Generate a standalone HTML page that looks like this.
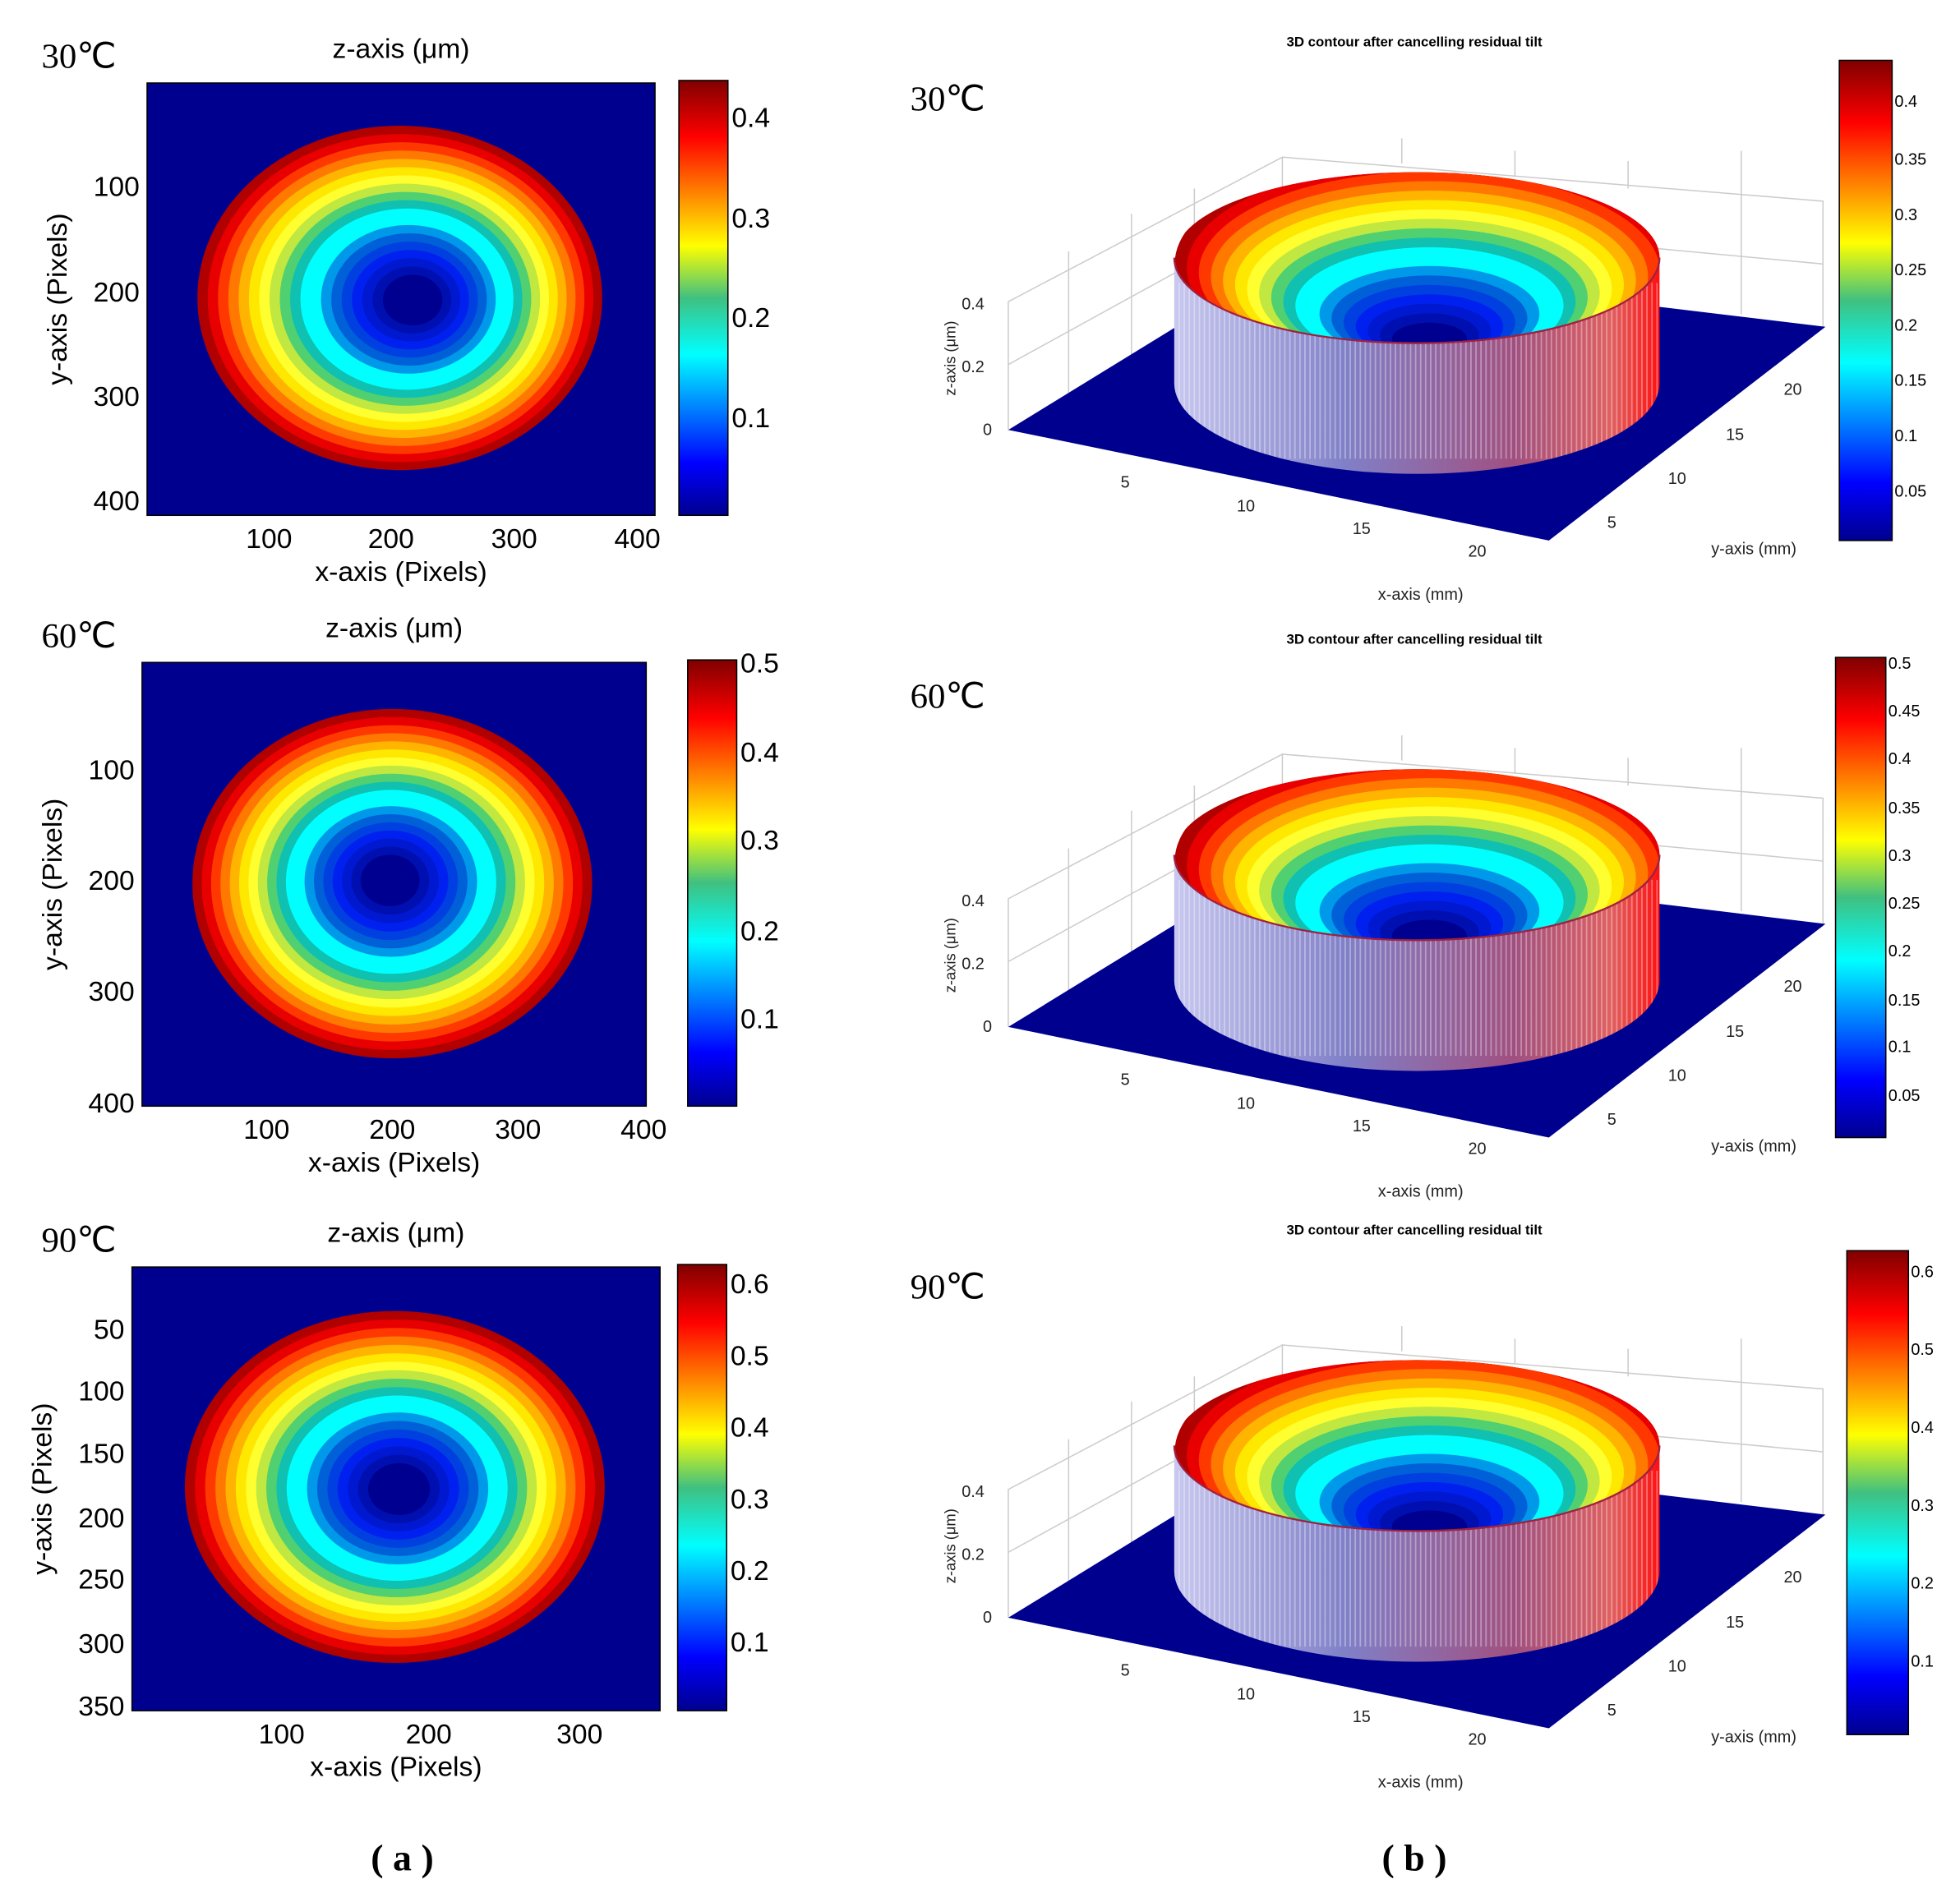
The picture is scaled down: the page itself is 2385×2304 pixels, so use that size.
<!DOCTYPE html>
<html><head><meta charset="utf-8">
<style>html,body{margin:0;padding:0;background:#fff}svg{display:block}</style></head>
<body>
<svg id="s" xmlns="http://www.w3.org/2000/svg" width="2385" height="2304" viewBox="0 0 1559 1506">
<defs>
<linearGradient id="jet" x1="0" y1="1" x2="0" y2="0">
<stop offset="0" stop-color="#00008f"/><stop offset="0.12" stop-color="#0000ff"/>
<stop offset="0.37" stop-color="#00ffff"/><stop offset="0.5" stop-color="#40c080"/><stop offset="0.62" stop-color="#ffff00"/>
<stop offset="0.87" stop-color="#ff0000"/><stop offset="1" stop-color="#800000"/></linearGradient>
<linearGradient id="wall" x1="0" y1="0" x2="1" y2="0">
<stop offset="0" stop-color="#c8c8f0"/><stop offset="0.35" stop-color="#8080c8"/>
<stop offset="0.7" stop-color="#a05080"/><stop offset="0.9" stop-color="#e06060"/><stop offset="1" stop-color="#ff1010"/></linearGradient>
</defs>
<g id="root" font-family="Liberation Sans, sans-serif"></g>
</svg>
<script>
const root=document.getElementById('root');let h='';
const cols=['#b00000','#e80000','#ff3800','#ff7800','#ffb400','#ffe800','#ffff30','#c0e840','#50d070','#10c0b0','#00ffff','#00ffff','#0098e8','#0060d8','#0040e0','#0020f0','#0018d0','#0010b0','#000090'];
function rings(cx,cy,rx,ry,dx,dy,ic,clip){
 let n=cols.length;
 for(let i=0;i<n;i++){let f=1-i/n*0.9;
  h+=`<ellipse cx="${cx+dx*(1-f)}" cy="${cy+dy*(1-f)}" rx="${rx*f}" ry="${ry*f}" fill="${cols[i]}"${clip?` clip-path="url(#${clip})"`:''}/>`;}
}
function t(x,y,s,sz,anch,extra){h+=`<text x="${x}" y="${y}" font-size="${sz}" text-anchor="${anch||'middle'}" ${extra||''}>${s}</text>`;}
function left(p){
 h+=`<rect x="${p.x0}" y="${p.y0}" width="${p.x1-p.x0}" height="${p.y1-p.y0}" fill="#00008f" stroke="#000"/>`;
 rings(p.cx,p.cy,p.rx,p.ry,p.dx,p.dy);
 h+=`<rect x="${p.cb0}" y="${p.y0-2}" width="39" height="${p.y1-p.y0+2}" fill="url(#jet)" stroke="#000"/>`;
 p.yt.forEach(a=>t(p.x0-6,a[1]+8,a[0],22,'end'));
 p.xt.forEach(a=>t(a[1],p.y1+26,a[0],22));
 p.ct.forEach(a=>t(p.cb0+42,a[1]+8,a[0],22,'start'));
 t((p.x0+p.x1)/2,p.y1+52,'x-axis (Pixels)',22);
 h+=`<text transform="translate(${p.x0-64},${(p.y0+p.y1)/2}) rotate(-90)" font-size="22" text-anchor="middle">y-axis (Pixels)</text>`;
 t((p.x0+p.x1)/2,p.y0-20,'z-axis (μm)',22);
 t(33,p.y0-12,p.lab,28,'start','font-family="Liberation Serif,serif"');
}
left({x0:117,x1:521,y0:66,y1:410,cx:318,cy:237,rx:161,ry:137,dx:12,dy:2,cb0:540,lab:'30℃',
 yt:[['100',148],['200',232],['300',315],['400',398]],xt:[['100',214],['200',311],['300',409],['400',507]],
 ct:[['0.4',93],['0.3',173],['0.2',252],['0.1',332]]});
left({x0:113,x1:514,y0:527,y1:880,cx:312,cy:703,rx:159,ry:139,dx:-2,dy:-3,cb0:547,lab:'60℃',
 yt:[['100',612],['200',700],['300',788],['400',877]],xt:[['100',212],['200',312],['300',412],['400',512]],
 ct:[['0.5',527],['0.4',598],['0.3',668],['0.2',740],['0.1',810]]});
left({x0:105,x1:525,y0:1008,y1:1361,cx:314,cy:1183,rx:167,ry:140,dx:4,dy:2,cb0:539,lab:'90℃',
 yt:[['50',1057],['100',1106],['150',1156],['200',1207],['250',1256],['300',1307],['350',1357]],xt:[['100',224],['200',341],['300',461]],
 ct:[['0.6',1021],['0.5',1078],['0.4',1135],['0.3',1192],['0.2',1249],['0.1',1306]]});

function right(oy,lab,cb,ct,k){
 h+=`<g transform="translate(0,${oy})">`;
 t(1125,37,'3D contour after cancelling residual tilt',11,'middle','font-weight="bold"');
 t(724,88,lab,28,'start','font-family="Liberation Serif,serif"');
 h+=`<g stroke="#ccc" fill="none"><path d="M802,342 L802,240 L1020,125 L1020,210 M1020,125 L1450,160 L1450,260 M802,240 L1020,125 M850,315 L850,200 M900,290 L900,170 M950,260 L950,150 M1115,110 L1115,130 M1205,120 L1205,140 M1295,128 L1295,150 M1385,120 L1385,250 M802,290 L1020,170 M1020,170 L1450,210"/></g>`;
 h+=`<polygon points="802,342 1232,430 1452,260 1020,208" fill="#00008f"/>`;
 const cx=1127,ty=205,rx=193*k,ry=68,by=305;
 h+=`<clipPath id="w${oy}"><path d="M${cx-rx},${ty} L${cx-rx},${by} A${rx},72 0 0 0 ${cx+rx},${by} L${cx+rx},${ty}Z"/></clipPath>`;
 h+=`<path d="M${cx-rx},${ty} L${cx-rx},${by} A${rx},72 0 0 0 ${cx+rx},${by} L${cx+rx},${ty} A${rx},${ry} 0 0 1 ${cx-rx},${ty}Z" fill="url(#wall)"/>`;
 let st='';for(let x=cx-rx+4;x<cx+rx;x+=4)st+=`M${x},${ty+20} L${x},${by+60}`;
 h+=`<path d="${st}" stroke="#fff" stroke-opacity="0.35" stroke-width="1.2" clip-path="url(#w${oy})"/>`;
 h+=`<clipPath id="c${oy}"><ellipse cx="${cx}" cy="${ty}" rx="${rx}" ry="${ry}"/></clipPath>`;
 rings(cx+10,ty+5,rx*1.05,ry*1.3,0,70,0,'c'+oy);
 h+=`<path d="M${cx-rx},${ty} A${rx},${ry} 0 0 0 ${cx+rx},${ty}" fill="none" stroke="#a02040" stroke-width="1.5"/>`;
 h+=`<g fill="#222">`;
 t(783,246,'0.4',13,'end');t(783,296,'0.2',13,'end');t(789,346,'0',13,'end');
 h+=`<text transform="translate(760,285) rotate(-90)" font-size="12" text-anchor="middle">z-axis (μm)</text>`;
 t(895,388,'5',13);t(991,407,'10',13);t(1083,425,'15',13);t(1175,443,'20',13);
 t(1130,477,'x-axis (mm)',13);
 t(1282,420,'5',13);t(1334,385,'10',13);t(1380,350,'15',13);t(1426,314,'20',13);
 t(1395,441,'y-axis (mm)',13);
 h+=`</g>`;
 h+=`<rect x="${cb[0]}" y="${cb[1]}" width="${cb[2]}" height="${cb[3]}" fill="url(#jet)" stroke="#000"/>`;
 ct.forEach(a=>t(cb[0]+cb[2]+2,a[1]+5,a[0],13,'start'));
 h+=`</g>`;
}
right(0,'30℃',[1463,48,42,382],[['0.4',80],['0.35',126],['0.3',170],['0.25',214],['0.2',258],['0.15',302],['0.1',346],['0.05',390]],1);
right(475,'60℃',[1460,48,40,382],[['0.5',52],['0.45',90],['0.4',128],['0.35',167],['0.3',205],['0.25',243],['0.2',281],['0.15',320],['0.1',357],['0.05',396]],1);
right(945,'90℃',[1469,50,49,385],[['0.6',66],['0.5',128],['0.4',190],['0.3',252],['0.2',314],['0.1',376]],1);
t(320,1488,'( a )',30,'middle','font-family="Liberation Serif,serif" font-weight="bold"');
t(1125,1488,'( b )',30,'middle','font-family="Liberation Serif,serif" font-weight="bold"');
root.innerHTML=h;
</script>
</body></html>
